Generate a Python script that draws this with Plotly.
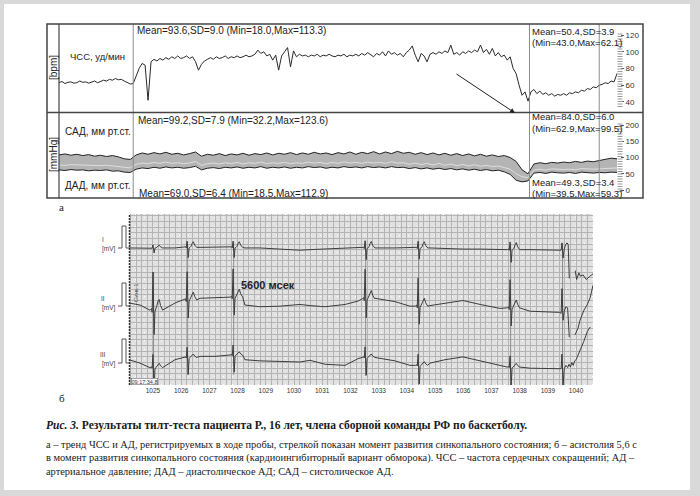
import numpy as np
import plotly.graph_objects as go

W, H = 700, 496
def px(x): return x / W
def py(y): return 1 - y / H

SANS = "Liberation Sans, Arial, sans-serif"
SERIF = "Liberation Serif, Times New Roman, serif"

# ---------------- Panel a: HR trend (bpm), one sample every 0.4 min ----------------
hr_step_min = 0.4
hr_bpm = [
    63, 64.5, 62, 63.5, 64, 62.5, 63, 65, 63.5, 64,
    62.5, 64, 65, 63, 64.5, 66, 65, 67, 66, 68,
    66.5, 67, 65, 63, 61.5, 62, 72, 80, 86, 84,
    42, 88, 91, 89, 92, 90, 93, 91, 94, 92,
    95, 92, 93, 95, 92, 94, 88, 78, 85, 89,
    91, 93, 91, 94, 92, 93, 95, 92, 94, 93,
    95, 93, 94, 96, 94, 95, 97, 102, 98, 100,
    95, 97, 90, 96, 78, 95, 100, 105, 82, 101,
    94, 97, 95, 96, 94, 96, 95, 97, 94, 96,
    95, 97, 95, 94, 96, 95, 97, 94, 96, 95,
    97, 95, 98, 96, 99, 97, 94, 98, 96, 100,
    95, 101, 97, 99, 96, 98, 94, 99, 102, 107,
    96, 88, 98, 95, 88, 97, 99, 97, 100, 98,
    101, 99, 108, 97, 99, 96, 100, 98, 101, 99,
    102, 100, 108, 99, 103, 97, 104, 95, 99, 94,
    96, 90, 94, 80, 74, 60, 48, 52, 41, 52,
    55, 50, 53, 49, 51, 48, 50, 47, 49, 48,
    50, 48, 51, 50, 52, 51, 54, 53, 56, 55,
    58, 57, 60, 61, 63, 62, 65, 64, 74,
]

# ---------------- Panel a: BP trend (mmHg), one sample every 0.8 min ----------------
bp_step_min = 0.8
sbp = [
    108, 111, 107, 110, 106, 109, 104, 107, 103, 106,
    102, 96, 94, 108, 114, 110, 115, 111, 116, 110,
    113, 108, 112, 117, 104, 110, 107, 112, 106, 111,
    108, 113, 107, 112, 109, 114, 108, 113, 110, 115,
    109, 114, 110, 116, 111, 114, 109, 115, 111, 117,
    110, 116, 112, 118, 111, 117, 112, 119, 113, 116,
    110, 115, 109, 114, 108, 113, 107, 112, 106, 111,
    105, 110, 104, 108, 103, 106, 100, 88, 62, 50,
    80, 84, 81, 85, 83, 86, 84, 88, 85, 89,
    87, 91, 95, 98, 96,
]
dbp = [
    62, 60, 63, 61, 62, 59, 61, 60, 62, 58,
    59, 55, 54, 64, 68, 66, 70, 67, 71, 68,
    70, 67, 69, 73, 62, 67, 69, 66, 70, 68,
    71, 67, 70, 68, 72, 67, 70, 68, 71, 67,
    70, 68, 72, 69, 71, 67, 70, 68, 72, 69,
    71, 68, 72, 69, 71, 68, 72, 69, 70, 66,
    69, 65, 68, 64, 67, 63, 66, 62, 65, 61,
    64, 60, 63, 59, 61, 56, 48, 30, 25, 28,
    52, 54, 51, 55, 53, 52, 54, 51, 55, 53,
    52, 54, 53, 55, 54,
]
mbp = [
    77, 76, 78, 77, 76, 75, 76, 75, 76, 74,
    73, 70, 68, 79, 83, 81, 85, 82, 86, 82,
    84, 81, 83, 88, 76, 81, 83, 80, 84, 81,
    85, 80, 84, 82, 86, 81, 84, 82, 85, 81,
    84, 82, 86, 83, 85, 81, 85, 82, 87, 83,
    85, 82, 86, 83, 85, 82, 87, 83, 84, 79,
    83, 78, 82, 77, 82, 76, 80, 75, 79, 74,
    78, 73, 76, 72, 74, 69, 64, 50, 41, 38,
    61, 64, 61, 65, 63, 63, 64, 62, 66, 64,
    64, 65, 66, 69, 68,
]

phase_marks_min = [10.0, 63.4, 72.8]
hr_ticks = [40, 60, 80, 100, 120]
bp_ticks = [0, 50, 100, 150, 200]

hr_label = "ЧСС, уд/мин"
sad_label = "САД, мм рт.ст."
dad_label = "ДАД, мм рт.ст."
hr_stats_tilt = "Mean=93.6,SD=9.0 (Min=18.0,Max=113.3)"
sad_stats_tilt = "Mean=99.2,SD=7.9 (Min=32.2,Max=123.6)"
dad_stats_tilt = "Mean=69.0,SD=6.4 (Min=18.5,Max=112.9)"
hr_stats_post = ["Mean=50.4,SD=3.9", "(Min=43.0,Max=62.1)"]
sad_stats_post = ["Mean=84.0,SD=6.0", "(Min=62.9,Max=99.5)"]
dad_stats_post = ["Mean=49.3,SD=3.4", "(Min=39.5,Max=59.3)"]

# ---------------- Panel b: ECG (time in s, amplitude in mV) ----------------
ecg_tick_labels = list(range(1025, 1041))
lead_names = ["I", "II", "III"]
lead_offsets = [12.15, 7.54, 2.04]

ecg_knot_t = [1024.15, 1024.54, 1024.89, 1025.25, 1025.78, 1026.13, 1026.67, 1027.20,
              1027.66, 1028.26, 1028.79, 1029.50, 1030.21, 1030.57, 1031.10, 1031.81,
              1032.27, 1032.87, 1033.58, 1034.11, 1034.82, 1035.35, 1035.99, 1036.60,
              1037.30, 1037.84, 1038.37, 1039.26]
lead1_knot_v = [0, 0, 0, 0, 0, 0.05, 0.05, 0.05, 0.05, 0.0, 0.0, -0.1, -0.2, -0.15,
                -0.1, -0.05, 0, 0, 0, 0, 0, -0.05, -0.1, -0.1, -0.15, -0.15, -0.15, -0.15]
lead2_knot_v = [-0.27, -0.45, -0.9, -0.7, -0.27, 0.0, 0.15, 0.2, 0.25, -0.45, -0.6, -0.55,
                -0.4, -0.5, -0.6, -0.4, -0.1, 0.15, -0.15, -0.55, -0.5, -0.3, -0.05, -0.4,
                -0.75, -0.7, -1.0, -1.1]
lead3_knot_v = [0.2, -0.1, -0.5, -0.3, 0.2, 0.4, 0.5, 0.5, 0.6, 0.2, 0.1, 0.05, 0.0, 0.15,
                -0.2, -0.3, 0.3, 0.4, 0.1, -0.3, -0.1, 0.2, 0.45, 0.1, -0.35, -0.5, -0.55, -0.55]

beat_t = [1025.0, 1026.21, 1027.84, 1032.52, 1034.40, 1037.66]
beat_dt = [-0.10, -0.05, -0.03, 0.00, 0.04, 0.07, 0.10, 0.14, 0.18, 0.22, 0.27, 0.34]
lead1_beat_dv = [0, 0.05, -0.05, 0.55, -0.9, -0.05, 0.0, 0.1, 0.35, 0.5, 0.2, 0]
lead2_beat_dv = [0, 0.1, -0.15, 2.5, -1.6, -0.1, 0.05, 0.3, 0.6, 0.7, 0.3, 0]
lead3_beat_dv = [0, 0.05, -0.05, 0.9, -1.5, -0.1, 0.0, 0.1, 0.25, 0.3, 0.12, 0]
lead1_beat_base = [0.0, 0.05, 0.05, 0.0, 0.0, -0.15]
lead2_beat_base = [-0.9, 0.0, 0.25, 0.1, -0.55, -0.7]
lead3_beat_base = [-0.5, 0.4, 0.6, 0.4, -0.3, -0.45]
lead1_beat_scale = [0.5, 1.0, 1.0, 1.15, 1.1, 1.25]
lead2_beat_scale = [1.35, 1.0, 1.0, 1.05, 1.0, 1.0]
lead3_beat_scale = [1.3, 1.0, 1.0, 1.05, 1.1, 1.1]

# last beat and the artefact after it (None = gap in the record)
lead1_post_t = [1039.42, 1039.47, 1039.50, 1039.54, 1039.58, 1039.63, 1039.68, 1039.72, 1039.76,
                1039.86, 1039.97, 1040.02, 1040.10, 1040.15, 1040.25, 1040.36, 1040.47, 1040.60]
lead1_post_v = [-0.15, -0.2, 0.45, -0.9, -0.1, 0.3, 0.45, 0.3, -2.7,
                None, -2.0, -2.8, -2.2, -2.5, -2.4, -2.8, -2.55, -2.3]
lead2_post_t = [1039.42, 1039.47, 1039.50, 1039.54, 1039.58, 1039.64, 1039.70, 1039.76,
                1039.86, 1039.96, 1040.07, 1040.14, 1040.21, 1040.28, 1040.39, 1040.50, 1040.60]
lead2_post_v = [-1.1, -1.2, 1.0, -1.8, -1.0, -0.6, -0.7, -3.3,
                None, -3.1, -2.5, -1.8, -1.4, -0.9, -0.45, 0.2, 1.3]
lead3_post_t = [1039.42, 1039.47, 1039.50, 1039.54, 1039.58, 1039.64, 1039.70, 1039.75, 1039.80,
                1039.85, 1039.90, 1039.95, 1040.00, 1040.07, 1040.17, 1040.27, 1040.40, 1040.50]
lead3_post_v = [-0.55, -0.6, 0.7, -2.1, -0.6, -0.3, -0.5, -0.2, -0.45,
                -0.05, -0.3, 0.1, 0.2, 0.6, 1.2, 1.8, 2.7, 3.1]

marker_t = [1025.02, 1026.23, 1027.86, 1032.54, 1034.42, 1037.68, 1039.52]
marker_top = [10.0, 12.7, 12.7, 12.8, 12.7, 12.5, 12.6]
marker_bottom = [0.0, 0.9, 0.9, 0.8, 0.0, 0.0, 0.0]

asystole_label = "5600 мсек"
time_stamp = "09:17:34.8"

caption_title = "<b><i>Рис. 3.</i> Результаты тилт-теста пациента Р., 16 лет, члена сборной команды РФ по баскетболу.</b>"
caption_lines = [
    "а – тренд ЧСС и АД, регистрируемых в ходе пробы, стрелкой показан момент развития синкопального состояния; б – асистолия 5,6 с",
    "в момент развития синкопального состояния (кардиоингибиторный вариант обморока). ЧСС – частота сердечных сокращений; АД –",
    "артериальное давление; ДАД – диастолическое АД; САД – систолическое АД.",
]


def build_lead(knot_v, dv, base, scale, post_t, post_v, offset):
    windows = [(b + beat_dt[0], b + beat_dt[-1]) for b in beat_t]
    pts = []
    for t, v in zip(ecg_knot_t, knot_v):
        if not any(a <= t <= b for a, b in windows):
            pts.append((t, v))
    for b, bl, s in zip(beat_t, base, scale):
        for d, a in zip(beat_dt, dv):
            pts.append((b + d, bl + s * a))
    pts.sort()
    xs = [p[0] for p in pts] + list(post_t)
    ys = [p[1] + offset for p in pts] + [None if v is None else v + offset for v in post_v]
    return xs, ys


fig = go.Figure()

# HR trend
hr_t = [i * hr_step_min for i in range(len(hr_bpm))]
fig.add_trace(go.Scatter(x=hr_t, y=hr_bpm, mode="lines", xaxis="x", yaxis="y",
                         line=dict(color="#2a2a2a", width=1), hoverinfo="skip"))

# BP trend
bp_t = [i * bp_step_min for i in range(len(sbp))]
fig.add_trace(go.Scatter(x=bp_t, y=sbp, mode="lines", xaxis="x2", yaxis="y2",
                         line=dict(width=0), hoverinfo="skip"))
fig.add_trace(go.Scatter(x=bp_t, y=dbp, mode="lines", xaxis="x2", yaxis="y2", fill="tonexty",
                         fillcolor="#b4b4b4", line=dict(width=0), hoverinfo="skip"))
fig.add_trace(go.Scatter(x=bp_t, y=mbp, mode="lines", xaxis="x2", yaxis="y2",
                         line=dict(color="#dedede", width=1), hoverinfo="skip"))
fig.add_trace(go.Scatter(x=bp_t, y=sbp, mode="lines", xaxis="x2", yaxis="y2",
                         line=dict(color="#222222", width=1.0), hoverinfo="skip"))
fig.add_trace(go.Scatter(x=bp_t, y=dbp, mode="lines", xaxis="x2", yaxis="y2",
                         line=dict(color="#222222", width=1.0), hoverinfo="skip"))

# ECG
mx, my = [], []
for t, a, b in zip(marker_t, marker_top, marker_bottom):
    mx += [t, t, None]
    my += [a, b, None]
fig.add_trace(go.Scatter(x=mx, y=my, mode="lines", xaxis="x3", yaxis="y3",
                         line=dict(color="#7a7a7a", width=0.8), hoverinfo="skip"))
leads = [
    (lead1_knot_v, lead1_beat_dv, lead1_beat_base, lead1_beat_scale, lead1_post_t, lead1_post_v),
    (lead2_knot_v, lead2_beat_dv, lead2_beat_base, lead2_beat_scale, lead2_post_t, lead2_post_v),
    (lead3_knot_v, lead3_beat_dv, lead3_beat_base, lead3_beat_scale, lead3_post_t, lead3_post_v),
]
for (kv, dv, base, sc, pt, pv), off in zip(leads, lead_offsets):
    xs, ys = build_lead(kv, dv, base, sc, pt, pv, off)
    fig.add_trace(go.Scatter(x=xs, y=ys, mode="lines", xaxis="x3", yaxis="y3",
                             line=dict(color="#3c3c3c", width=1), connectgaps=False,
                             hoverinfo="skip"))

ecg_major = [round(1024.2 + 0.2 * k, 2) for k in range(83)]
ecg_text = [str(int(round(v))) if abs(v - round(v)) < 1e-6 and int(round(v)) in ecg_tick_labels else ""
            for v in ecg_major]

X_RANGE = [0, 75.6]
fig.update_layout(
    width=W, height=H, margin=dict(l=0, r=0, t=0, b=0),
    paper_bgcolor="#d9d9d9", plot_bgcolor="white", showlegend=False, hovermode=False,
    font=dict(family=SANS, color="#222"),
    xaxis=dict(domain=[px(59), px(620)], range=X_RANGE, visible=False, anchor="y"),
    yaxis=dict(domain=[py(112), py(25)], range=[28, 132], side="right", anchor="x",
               tickvals=hr_ticks, ticks="outside", ticklen=3, tickcolor="#555",
               tickfont=dict(size=8, color="#333"), showgrid=False, zeroline=False,
               showline=False),
    xaxis2=dict(domain=[px(59), px(620)], range=X_RANGE, visible=False, anchor="y2"),
    yaxis2=dict(domain=[py(198), py(113)], range=[-24.6, 237], side="right", anchor="x2",
                tickvals=bp_ticks, ticks="outside", ticklen=3, tickcolor="#555",
                tickfont=dict(size=8, color="#333"), showgrid=False, zeroline=False,
                showline=False),
    xaxis3=dict(domain=[px(129), px(593)], range=[1024.15, 1040.6], anchor="y3",
                tickmode="array", tickvals=ecg_major, ticktext=ecg_text, ticks="",
                tickfont=dict(size=6.5, color="#333"), showgrid=True, gridcolor="#b4b4b4",
                gridwidth=0.7, zeroline=False, showline=False,
                minor=dict(tickmode="linear", tick0=1024.0, dtick=0.04, showgrid=True,
                           gridcolor="#e2e2e2", gridwidth=0.5)),
    yaxis3=dict(domain=[py(385), py(214)], range=[0, 15.16], anchor="x3",
                tickmode="linear", tick0=0, dtick=0.5, showticklabels=False, ticks="",
                showgrid=True, gridcolor="#b4b4b4", gridwidth=0.7, zeroline=False,
                showline=False,
                minor=dict(tickmode="linear", tick0=0, dtick=0.1, showgrid=True,
                           gridcolor="#e2e2e2", gridwidth=0.5)),
)

shapes = []
# white page
shapes.append(dict(type="rect", xref="paper", yref="paper", x0=px(4), x1=px(690),
                   y0=py(490), y1=py(4), fillcolor="white", line=dict(width=0), layer="below"))
# phase separators
for t in phase_marks_min:
    shapes.append(dict(type="line", xref="x", yref="paper", x0=t, x1=t, y0=py(198), y1=py(24),
                       line=dict(color="#8c8c8c", width=1)))
# ruler columns at right axis
for a, b in [(32, 107), (122, 192)]:
    shapes.append(dict(type="line", xref="paper", yref="paper", x0=px(620), x1=px(620),
                       y0=py(b), y1=py(a), line=dict(color="#9a9a9a", width=5, dash="1px,1.5px")))
# frame of panel a
shapes.append(dict(type="rect", xref="paper", yref="paper", x0=px(47), x1=px(643),
                   y0=py(198), y1=py(24), line=dict(color="#444", width=1.5)))
shapes.append(dict(type="line", xref="paper", yref="paper", x0=px(59), x1=px(59),
                   y0=py(198), y1=py(24), line=dict(color="#444", width=1.2)))
shapes.append(dict(type="line", xref="paper", yref="paper", x0=px(47), x1=px(643),
                   y0=py(112.5), y1=py(112.5), line=dict(color="#444", width=1.5)))
# ECG left dashed marker
shapes.append(dict(type="line", xref="paper", yref="paper", x0=px(129.5), x1=px(129.5),
                   y0=py(385), y1=py(214), line=dict(color="#333", width=1.5, dash="2px,1px")))
# calibration pulses
for top, base in [(226, 248), (283, 306), (339, 363)]:
    path = (f"M {px(118)},{py(base)} L {px(122)},{py(base)} L {px(122)},{py(top)} "
            f"L {px(126)},{py(top)} L {px(126)},{py(base)} L {px(129)},{py(base)}")
    shapes.append(dict(type="path", xref="paper", yref="paper", path=path,
                       line=dict(color="#555", width=1)))
fig.update_layout(shapes=shapes)

ann = []
def text(x, y, s, size=10, anchor="left", family=SANS, color="#222", angle=0, **kw):
    ann.append(dict(x=px(x), y=py(y), xref="paper", yref="paper", text=s, showarrow=False,
                    xanchor=anchor, yanchor="middle", textangle=angle,
                    font=dict(size=size, family=family, color=color), **kw))

text(135, 30, hr_stats_tilt)
text(68, 57, hr_label, size=9.5)
text(53, 68, "[bpm]", anchor="center", angle=-90)
text(136, 121, sad_stats_tilt)
text(63, 131, sad_label)
text(53, 155, "[mmHg]", anchor="center", angle=-90)
text(63, 185, dad_label)
text(137, 193, dad_stats_tilt)
text(530, 31, hr_stats_post[0], size=9.5)
text(530, 42, hr_stats_post[1], size=9.5)
text(530, 117, sad_stats_post[0], size=9.5)
text(530, 128, sad_stats_post[1], size=9.5)
text(530, 182, dad_stats_post[0], size=9.5)
text(530, 193, dad_stats_post[1], size=9.5)
text(62, 207, "а", size=11, anchor="center", family=SERIF)

# arrow pointing to the syncope moment
ann.append(dict(x=px(515), y=py(113), xref="paper", yref="paper", ax=-60, ay=-40, text="",
                showarrow=True, arrowhead=2, arrowsize=1, arrowwidth=1, arrowcolor="#222"))

# ECG texts
for name, yy in zip(lead_names, [239, 298, 354]):
    text(103, yy, name, size=6.5, anchor="center", color="#444")
    text(109, yy + 10, "[mV]", size=6.5, anchor="center", color="#444")
text(239, 285, f"<b>{asystole_label}</b>", size=11)
text(136, 293, "Синк 1", size=6, anchor="center", color="#555", angle=-90)
text(131, 381, time_stamp, size=5.5, color="#333", bgcolor="white",
     bordercolor="#555", borderwidth=0.5, borderpad=0)
text(62, 398, "б", size=11, anchor="center", family=SERIF)

# caption
text(44, 425, caption_title, size=11.5, family=SERIF, color="#1a1a1a")
for line, yy in zip(caption_lines, [444, 457.5, 471]):
    text(44, yy, line, size=10.4, family=SERIF, color="#1a1a1a")

fig.update_layout(annotations=ann)
fig.write_html("out.html", config={"displayModeBar": False},
               post_script="document.body.style.margin='0';document.body.style.padding='0';")
